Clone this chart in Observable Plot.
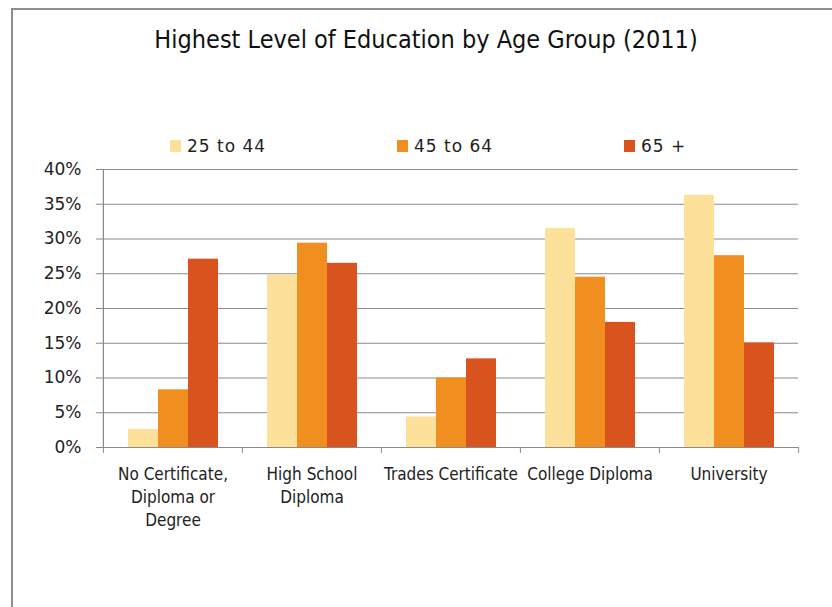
<!DOCTYPE html>
<html>
<head>
<meta charset="utf-8">
<script src="https://cdn.jsdelivr.net/npm/d3@7"></script>
<script src="https://cdn.jsdelivr.net/npm/@observablehq/plot@0.6"></script>
<style>
  html, body { margin: 0; padding: 0; background: #fff; overflow: hidden; }
  body { position: relative; width: 832px; height: 607px; }
  #frame { position: absolute; left: 11px; top: 8px; width: 840px; height: 620px;
           border-top: 2px solid #8e8e8e; border-left: 2px solid #8e8e8e; box-sizing: border-box; }
  #title { position: absolute; left: 0; top: 25px; width: 852px; text-align: center;
           font-family: "DejaVu Sans Condensed", "DejaVu Sans", sans-serif; font-stretch: condensed;
           font-size: 25px; color: #111; }
  #legend { position: absolute; left: 170px; top: 136px; display: flex;
            font-family: "DejaVu Sans", sans-serif; font-size: 17px; letter-spacing: 1px; color: #222; }
  .item { width: 227px; display: flex; align-items: center; }
  .sw { width: 11px; height: 12px; margin-right: 6px; }
  #chart { position: absolute; left: 0; top: 150px; }
</style>
</head>
<body>
<div id="frame"></div>
<div id="title">Highest Level of Education by Age Group (2011)</div>
<div id="legend"></div>
<div id="chart"></div>
<script>
const categories = ["No Certificate, Diploma or Degree", "High School Diploma", "Trades Certificate", "College Diploma", "University"];
const categoryTickLabels = ["No Certificate,\nDiploma or\nDegree", "High School\nDiploma", "Trades Certificate", "College Diploma", "University"];
const ageGroups = ["25 to 44", "45 to 64", "65 +"];
const values25to44 = [0.026, 0.248, 0.044, 0.315, 0.363];
const values45to64 = [0.083, 0.294, 0.100, 0.245, 0.276];
const values65plus = [0.271, 0.265, 0.1275, 0.180, 0.1505];
const yTicks = [0, 0.05, 0.10, 0.15, 0.20, 0.25, 0.30, 0.35, 0.40];
const colors = ["#fde19a", "#f08f1f", "#d9531e"];

const series = [values25to44, values45to64, values65plus];
const data = [];
categories.forEach((c, i) => ageGroups.forEach((a, j) => data.push({category: c, age: a, value: series[j][i]})));

const W = 832, H = 390, ML = 102, MR = 34, MT = 19, MB = 93;
const facetW = (W - ML - MR) / categories.length;
const labelOf = new Map(categories.map((c, i) => [c, categoryTickLabels[i]]));
const axisColor = "#8a8a8a";

const chart = Plot.plot({
  width: W, height: H,
  marginLeft: ML, marginRight: MR, marginTop: MT, marginBottom: MB,
  style: {background: "transparent", overflow: "visible"},
  fx: {domain: categories, padding: 0, label: null},
  x: {domain: ageGroups, paddingInner: 0, paddingOuter: 0.76, axis: null},
  y: {domain: [0, 0.4], label: null},
  color: {domain: ageGroups, range: colors},
  marks: [
    Plot.gridY(yTicks, {stroke: axisColor, strokeOpacity: 1, strokeWidth: 1.2}),
    Plot.gridFx({ticks: [categories[0]], stroke: axisColor, strokeOpacity: 1, strokeWidth: 1.2, dx: -facetW / 2}),
    Plot.barY(data, {fx: "category", x: "age", y: "value", fill: "age"}),
    Plot.axisY(yTicks, {tickSize: 7, tickPadding: 15, stroke: axisColor,
      tickFormat: d => Math.round(d * 100) + "%", fontSize: 17, fill: "#222",
      fontFamily: "DejaVu Sans, sans-serif", label: null}),
    Plot.axisFx({anchor: "bottom", tickSize: 0, tickPadding: 16, fontSize: 17, fill: "#222", lineHeight: 1.35,
      fontFamily: "DejaVu Sans Condensed, DejaVu Sans, sans-serif", label: null,
      tickFormat: d => labelOf.get(d)}),
    Plot.axisFx({anchor: "bottom", tickSize: 6, text: null, stroke: axisColor, dx: -facetW / 2, label: null}),
    Plot.axisFx({anchor: "bottom", ticks: [categories[categories.length - 1]], tickSize: 6, text: null, stroke: axisColor, dx: facetW / 2, label: null})
  ]
});
document.getElementById("chart").appendChild(chart);

const legend = document.getElementById("legend");
ageGroups.forEach((a, i) => {
  const it = document.createElement("div");
  it.className = "item";
  it.innerHTML = `<span class="sw" style="background:${colors[i]}"></span><span>${a}</span>`;
  legend.appendChild(it);
});
</script>
</body>
</html>
